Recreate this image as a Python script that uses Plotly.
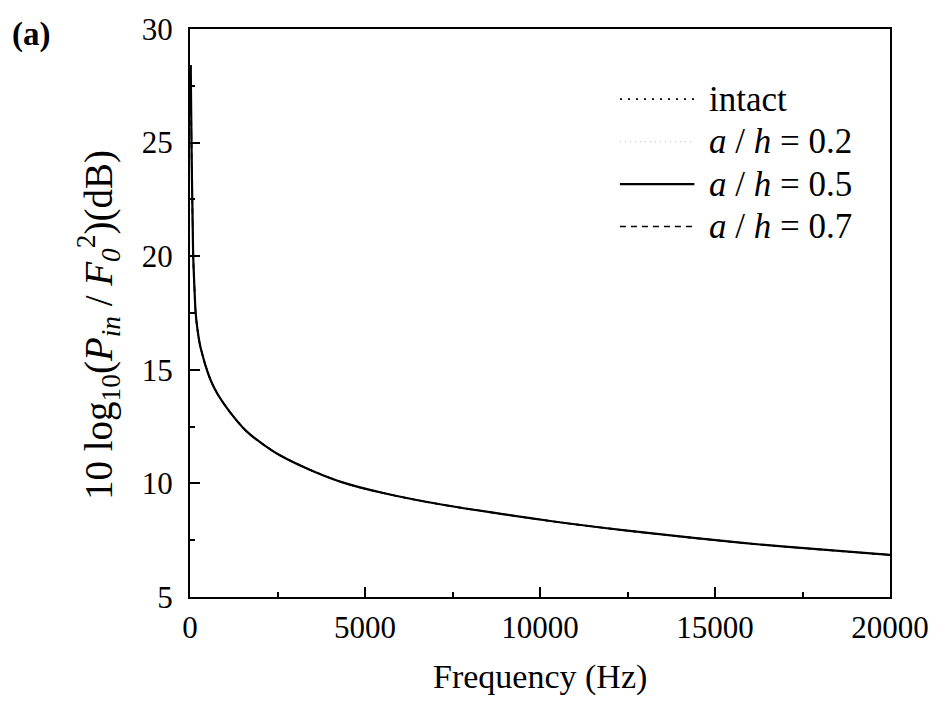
import plotly.graph_objects as go

# ---- data ----
freq_hz = [20, 50, 75, 94, 130, 162, 220, 284, 332, 450, 616, 800, 1136, 1610,
           2000, 2556, 3502, 4450, 5396, 6816, 8710, 10602, 12496, 14389,
           16282, 18176, 20000]
pin_intact = [28.4, 24.0, 21.5, 19.9, 18.5, 17.5, 16.7, 16.1, 15.8, 15.15, 14.45,
              13.9, 13.15, 12.3, 11.82, 11.25, 10.55, 10.0, 9.62, 9.17, 8.70,
              8.28, 7.92, 7.6, 7.31, 7.07, 6.85]
pin_a02 = list(pin_intact)
pin_a05 = list(pin_intact)
pin_a07 = list(pin_intact)

series_names = ["intact", "<i>a</i> / <i>h</i> = 0.2",
                "<i>a</i> / <i>h</i> = 0.5", "<i>a</i> / <i>h</i> = 0.7"]
series_values = [pin_intact, pin_a02, pin_a05, pin_a07]
series_styles = [
    dict(color="black", width=1.6, dash="2px,6px"),
    dict(color="#c8c8c8", width=1.2, dash="1px,4px"),
    dict(color="black", width=2.2, dash="solid"),
    dict(color="black", width=1.6, dash="6px,5px"),
]

x_ticks = [0, 5000, 10000, 15000, 20000]
y_ticks = [5, 10, 15, 20, 25, 30]

FONT = "Liberation Serif, Times New Roman, serif"

fig = go.Figure()
for name, vals, st in zip(series_names, series_values, series_styles):
    fig.add_trace(go.Scatter(x=freq_hz, y=vals, mode="lines", name=name,
                             line=dict(shape="spline", smoothing=1.0, **st),
                             showlegend=False))

W, H = 941, 704
ml, mr, mt, mb = 190, 46, 22, 107
pw, ph = W - ml - mr, H - mt - mb

def px_x(x):
    return (x - ml) / pw

def px_y(y):
    return 1 - (y - mt) / ph

# manual legend (long line samples like the original)
legend_rows_y = [93, 136, 179, 222]
shapes = []
annotations = []
for name, st, ry in zip(series_names, series_styles, legend_rows_y):
    shapes.append(dict(type="line", xref="paper", yref="paper",
                       x0=px_x(623), x1=px_x(698), y0=px_y(ry), y1=px_y(ry),
                       line=st))
    annotations.append(dict(text=name, xref="paper", yref="paper",
                            x=px_x(711), y=px_y(ry), xanchor="left",
                            yanchor="middle", showarrow=False,
                            font=dict(family=FONT, size=35, color="black")))

annotations.append(dict(text="<b>(a)</b>", xref="paper", yref="paper",
                        x=px_x(9), y=px_y(28), xanchor="left", yanchor="middle",
                        showarrow=False,
                        font=dict(family=FONT, size=33, color="black")))
annotations.append(dict(
    text="10 log<sub>10</sub>(<i>P<sub>in</sub></i> / <i>F<sub>0</sub></i><sup>2</sup>)(dB)",
    xref="paper", yref="paper", x=px_x(98), y=px_y(322), xanchor="center",
    yanchor="middle", textangle=-90, showarrow=False,
    font=dict(family=FONT, size=39, color="black")))
annotations.append(dict(text="Frequency (Hz)", xref="paper", yref="paper",
                        x=0.5, y=px_y(678), xanchor="center", yanchor="middle",
                        showarrow=False,
                        font=dict(family=FONT, size=34, color="black")))

axis_common = dict(showgrid=False, zeroline=False, showline=True,
                   linecolor="black", linewidth=2, mirror=True,
                   ticks="inside", ticklen=10, tickwidth=2, tickcolor="black",
                   tickfont=dict(family=FONT, size=31, color="black"))

fig.update_layout(
    width=W, height=H,
    margin=dict(l=ml, r=mr, t=mt, b=mb),
    paper_bgcolor="white", plot_bgcolor="white",
    shapes=shapes, annotations=annotations,
    xaxis=dict(range=[0, 20000], tickmode="array", tickvals=x_ticks,
               ticktext=[str(v) for v in x_ticks],
               minor=dict(ticks="inside", ticklen=5, tickwidth=2,
                          tickcolor="black", dtick=2500),
               ticklabelstandoff=2, **axis_common),
    yaxis=dict(range=[5, 30], tickmode="array", tickvals=y_ticks,
               ticktext=[str(v) for v in y_ticks],
               minor=dict(ticks="inside", ticklen=5, tickwidth=2,
                          tickcolor="black", dtick=2.5),
               ticklabelstandoff=9, **axis_common),
)

fig.write_html("out.html")
